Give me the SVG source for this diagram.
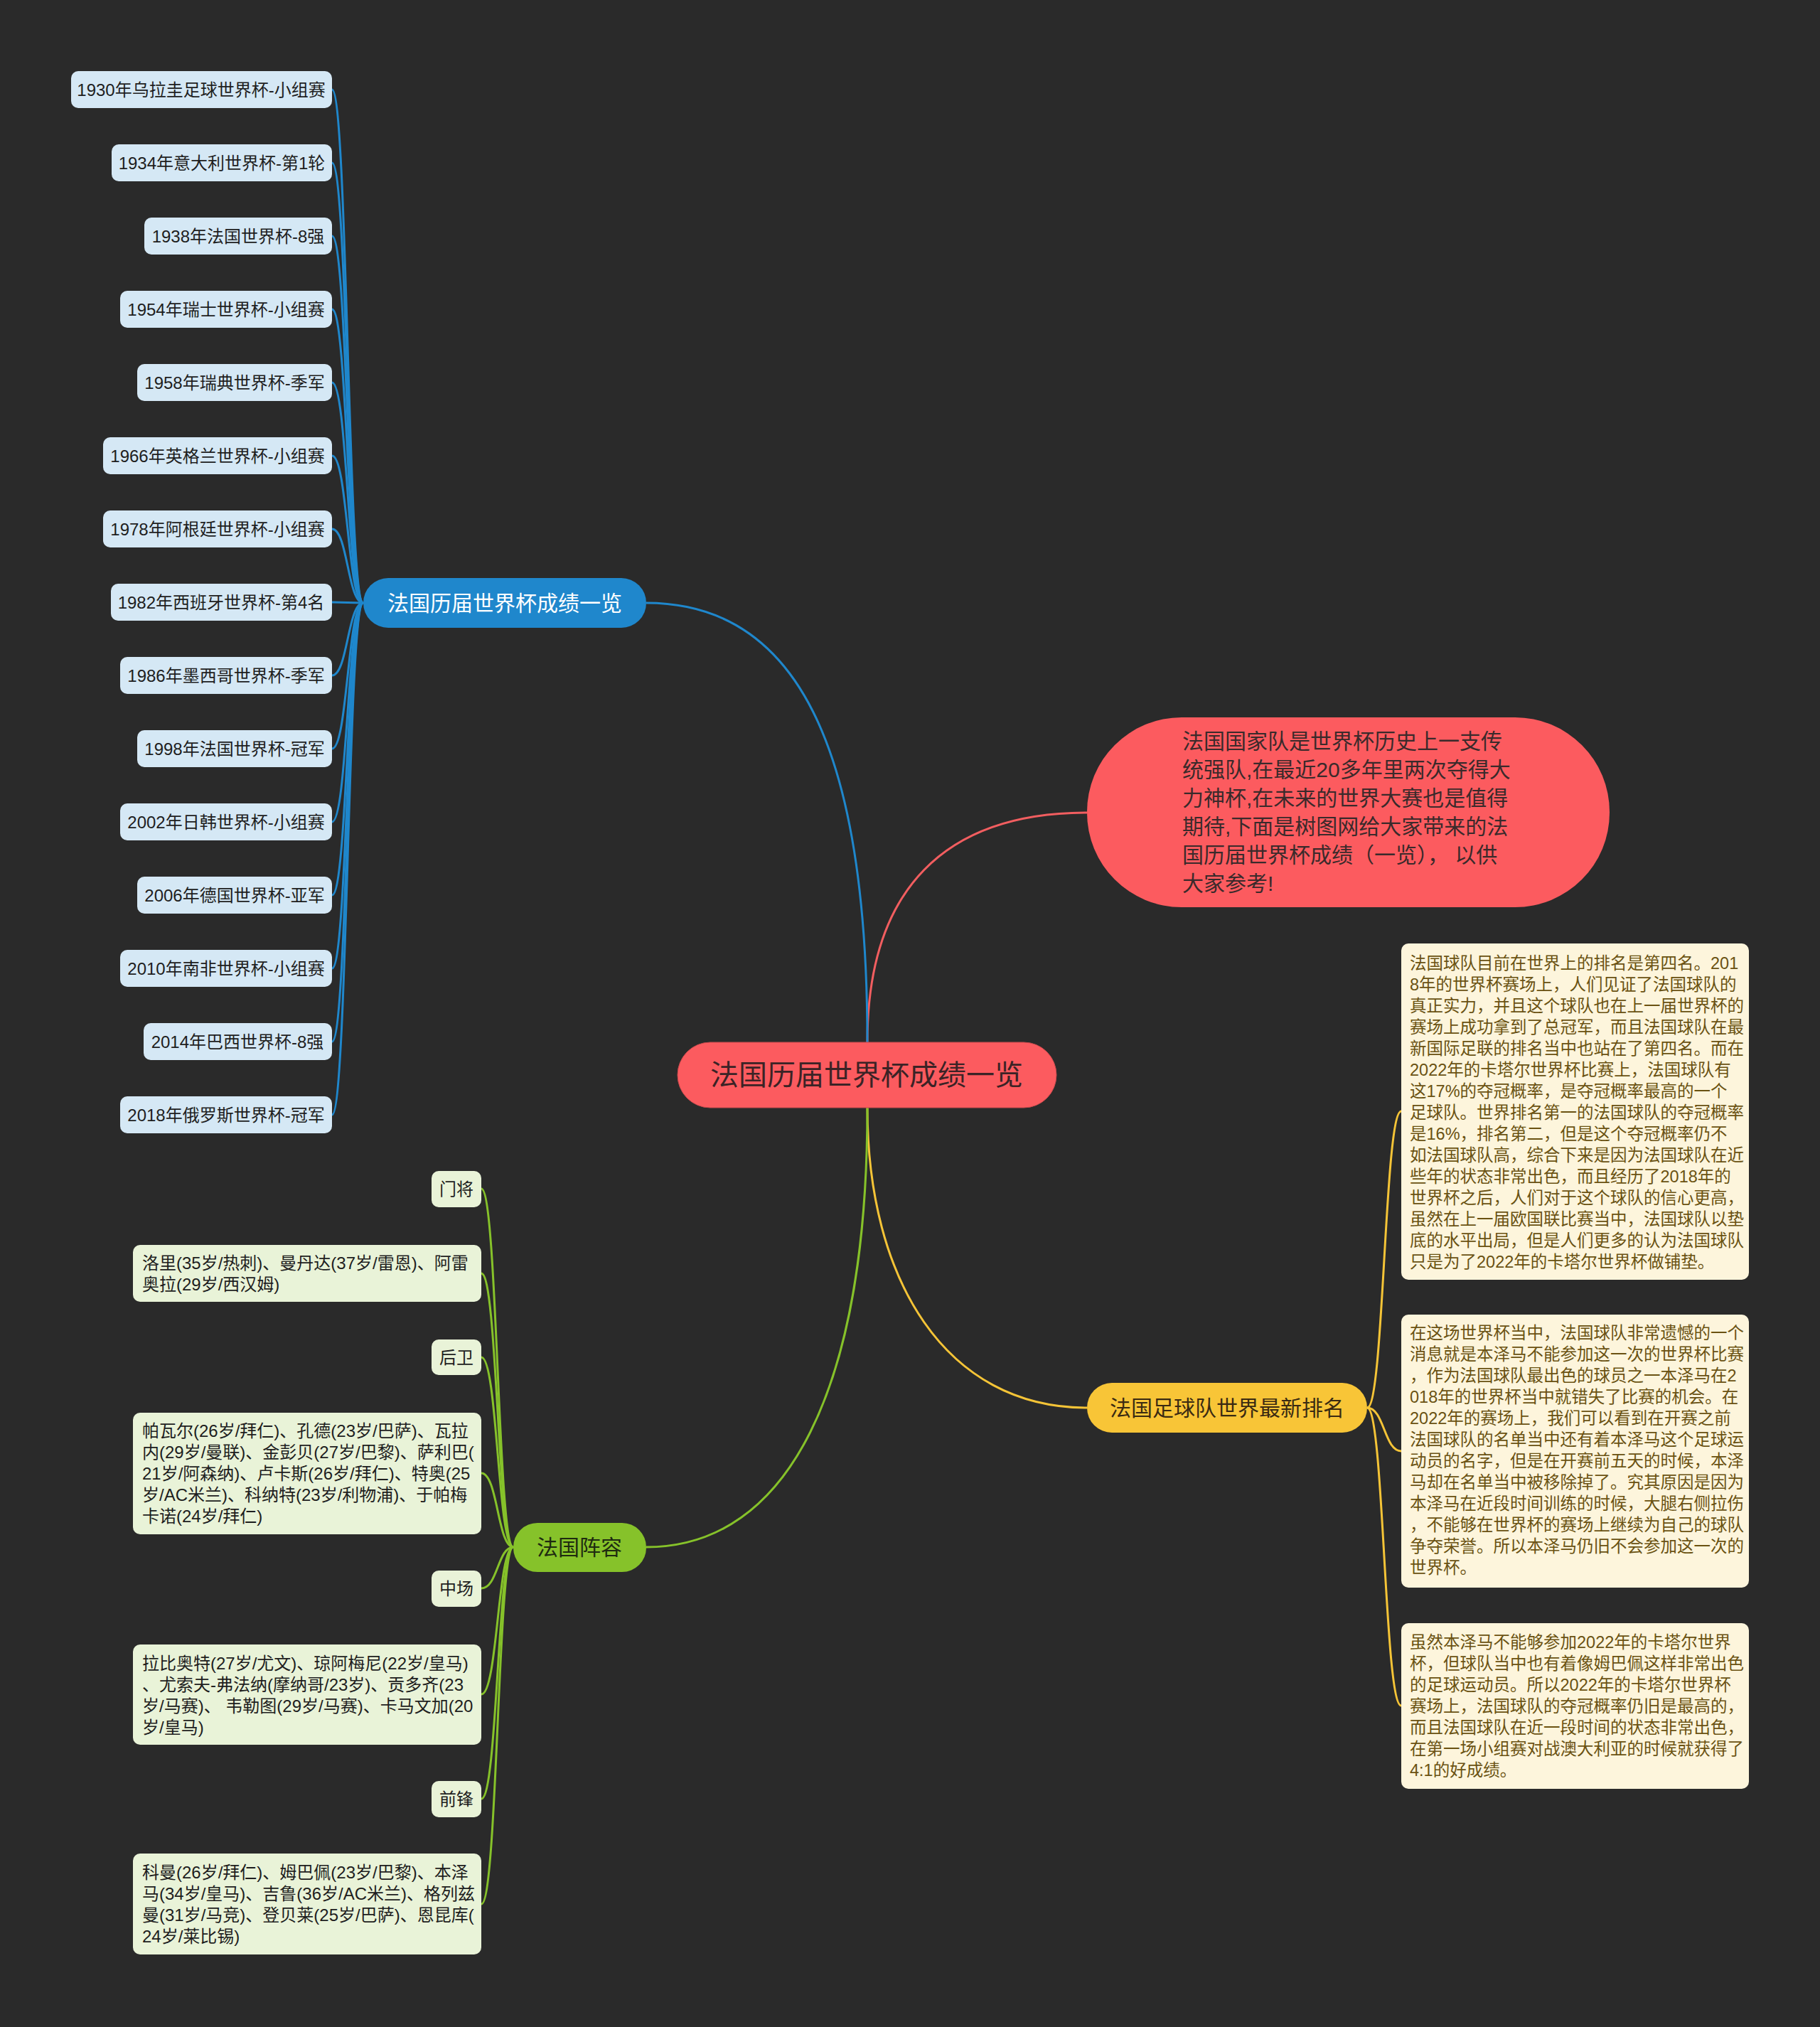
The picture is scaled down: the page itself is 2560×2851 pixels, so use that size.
<svg xmlns="http://www.w3.org/2000/svg" width="2560" height="2851" viewBox="0 0 2560 2851">
<style>
text{font-family:"Liberation Sans","Noto Sans CJK SC",sans-serif;dominant-baseline:central}
.conn path{fill:none;stroke-width:3}
.blue path{stroke:#1f87cc}
.green path{stroke:#86c22a}
.yellow path{stroke:#f5c437}
.red path{stroke:#f25e60}
.leafB rect{fill:#d5e8f5}
.leafB text{font-size:24px;fill:#1e1e1e;text-anchor:middle}
.leafG rect{fill:#e9f3d8}
.leafG text{font-size:24px;fill:#1e1e1e}
.small text{text-anchor:middle;font-size:24px}
.note rect{fill:#fdf5dc}
.note text{font-size:23.5px;fill:#6a5212}
</style>
<rect width="2560" height="2851" fill="#2a2a2a"/>

<g id="connectors" class="conn">
  <g class="red">
    <path d="M1220,1466 C1220,1250 1330,1143 1529,1143"/>
  </g>
  <g class="blue">
    <path d="M1220,1466 C1220,1050 1120,848 909,848"/>
    <path d="M511,848 C489,848 489,126 467,126"/>
    <path d="M511,848 C489,848 489,229 467,229"/>
    <path d="M511,848 C489,848 489,332 467,332"/>
    <path d="M511,848 C489,848 489,435 467,435"/>
    <path d="M511,848 C489,848 489,538 467,538"/>
    <path d="M511,848 C489,848 489,641 467,641"/>
    <path d="M511,848 C489,848 489,744 467,744"/>
    <path d="M511,848 C489,848 489,847 467,847"/>
    <path d="M511,848 C489,848 489,950 467,950"/>
    <path d="M511,848 C489,848 489,1053 467,1053"/>
    <path d="M511,848 C489,848 489,1156 467,1156"/>
    <path d="M511,848 C489,848 489,1259 467,1259"/>
    <path d="M511,848 C489,848 489,1362 467,1362"/>
    <path d="M511,848 C489,848 489,1465 467,1465"/>
    <path d="M511,848 C489,848 489,1568 467,1568"/>
  </g>
  <g class="yellow">
    <path d="M1220,1558 C1220,1800 1330,1980 1529,1980"/>
    <path d="M1923,1980 C1947,1980 1947,1563 1971,1563"/>
    <path d="M1923,1980 C1947,1980 1947,2041 1971,2041"/>
    <path d="M1923,1980 C1947,1980 1947,2399 1971,2399"/>
  </g>
  <g class="green">
    <path d="M1220,1558 C1220,1950 1110,2176 909,2176"/>
    <path d="M722,2176 C700,2176 700,1672 677,1672"/>
    <path d="M722,2176 C700,2176 700,1791 677,1791"/>
    <path d="M722,2176 C700,2176 700,1909 677,1909"/>
    <path d="M722,2176 C700,2176 700,2072 677,2072"/>
    <path d="M722,2176 C700,2176 700,2234 677,2234"/>
    <path d="M722,2176 C700,2176 700,2383 677,2383"/>
    <path d="M722,2176 C700,2176 700,2530 677,2530"/>
    <path d="M722,2176 C700,2176 700,2678 677,2678"/>
  </g>
</g>

<g id="root">
  <rect x="953" y="1466" width="533" height="92" rx="46" fill="#fc5b5f" stroke="#c94a4d" stroke-width="1"/>
  <text x="1219" y="1512" font-size="40" fill="#3b2326" text-anchor="middle">法国历届世界杯成绩一览</text>
</g>

<g id="branch-history">
  <rect x="511" y="813" width="398" height="70" rx="35" fill="#1f87cc"/>
  <text x="710" y="848" font-size="30" fill="#ffffff" text-anchor="middle">法国历届世界杯成绩一览</text>
</g>

<g id="intro">
  <rect x="1529" y="1009" width="735" height="267" rx="133" fill="#fc5b5f"/>
  <g font-size="30" fill="#3a2a2b">
    <text x="1663" y="1042">法国国家队是世界杯历史上一支传</text>
    <text x="1663" y="1082">统强队,在最近20多年里两次夺得大</text>
    <text x="1663" y="1122">力神杯,在未来的世界大赛也是值得</text>
    <text x="1663" y="1162">期待,下面是树图网给大家带来的法</text>
    <text x="1663" y="1202">国历届世界杯成绩（一览）， 以供</text>
    <text x="1663" y="1242">大家参考!</text>
  </g>
</g>

<g id="branch-ranking">
  <rect x="1529" y="1945" width="394" height="70" rx="35" fill="#f8c537"/>
  <text x="1726" y="1980" font-size="30" fill="#3a2a12" text-anchor="middle">法国足球队世界最新排名</text>
</g>

<g id="branch-squad">
  <rect x="722" y="2142" width="187" height="69" rx="34" fill="#86c22a"/>
  <text x="815" y="2176" font-size="30" fill="#1e2a10" text-anchor="middle">法国阵容</text>
</g>

<g class="leafB">
  <g id="y1930"><rect x="100" y="100" width="367" height="52" rx="10"/><text x="283" y="126">1930年乌拉圭足球世界杯-小组赛</text></g>
  <g id="y1934"><rect x="157" y="203" width="310" height="52" rx="10"/><text x="312" y="229">1934年意大利世界杯-第1轮</text></g>
  <g id="y1938"><rect x="203" y="306" width="264" height="52" rx="10"/><text x="335" y="332">1938年法国世界杯-8强</text></g>
  <g id="y1954"><rect x="169" y="409" width="298" height="52" rx="10"/><text x="318" y="435">1954年瑞士世界杯-小组赛</text></g>
  <g id="y1958"><rect x="193" y="512" width="274" height="52" rx="10"/><text x="330" y="538">1958年瑞典世界杯-季军</text></g>
  <g id="y1966"><rect x="145" y="615" width="322" height="52" rx="10"/><text x="306" y="641">1966年英格兰世界杯-小组赛</text></g>
  <g id="y1978"><rect x="145" y="718" width="322" height="52" rx="10"/><text x="306" y="744">1978年阿根廷世界杯-小组赛</text></g>
  <g id="y1982"><rect x="156" y="821" width="311" height="52" rx="10"/><text x="311" y="847">1982年西班牙世界杯-第4名</text></g>
  <g id="y1986"><rect x="169" y="924" width="298" height="52" rx="10"/><text x="318" y="950">1986年墨西哥世界杯-季军</text></g>
  <g id="y1998"><rect x="193" y="1027" width="274" height="52" rx="10"/><text x="330" y="1053">1998年法国世界杯-冠军</text></g>
  <g id="y2002"><rect x="169" y="1130" width="298" height="52" rx="10"/><text x="318" y="1156">2002年日韩世界杯-小组赛</text></g>
  <g id="y2006"><rect x="193" y="1233" width="274" height="52" rx="10"/><text x="330" y="1259">2006年德国世界杯-亚军</text></g>
  <g id="y2010"><rect x="169" y="1336" width="298" height="52" rx="10"/><text x="318" y="1362">2010年南非世界杯-小组赛</text></g>
  <g id="y2014"><rect x="202" y="1439" width="265" height="52" rx="10"/><text x="334" y="1465">2014年巴西世界杯-8强</text></g>
  <g id="y2018"><rect x="169" y="1542" width="298" height="52" rx="10"/><text x="318" y="1568">2018年俄罗斯世界杯-冠军</text></g>
</g>

<g class="leafG">
  <g id="gk" class="small"><rect x="607" y="1647" width="70" height="51" rx="10"/><text x="642" y="1672">门将</text></g>
  <g id="gk-list"><rect x="187" y="1751" width="490" height="80" rx="10"/>
    <text x="200" y="1776">洛里(35岁/热刺)、曼丹达(37岁/雷恩)、阿雷</text>
    <text x="200" y="1806">奥拉(29岁/西汉姆)</text>
  </g>
  <g id="df" class="small"><rect x="607" y="1884" width="70" height="50" rx="10"/><text x="642" y="1909">后卫</text></g>
  <g id="df-list"><rect x="187" y="1987" width="490" height="171" rx="10"/>
    <text x="200" y="2012">帕瓦尔(26岁/拜仁)、孔德(23岁/巴萨)、瓦拉</text>
    <text x="200" y="2042">内(29岁/曼联)、金彭贝(27岁/巴黎)、萨利巴(</text>
    <text x="200" y="2072">21岁/阿森纳)、卢卡斯(26岁/拜仁)、特奥(25</text>
    <text x="200" y="2102">岁/AC米兰)、科纳特(23岁/利物浦)、于帕梅</text>
    <text x="200" y="2132">卡诺(24岁/拜仁)</text>
  </g>
  <g id="mf" class="small"><rect x="607" y="2209" width="70" height="51" rx="10"/><text x="642" y="2234">中场</text></g>
  <g id="mf-list"><rect x="187" y="2313" width="490" height="141" rx="10"/>
    <text x="200" y="2339">拉比奥特(27岁/尤文)、琼阿梅尼(22岁/皇马)</text>
    <text x="200" y="2369">、尤索夫-弗法纳(摩纳哥/23岁)、贡多齐(23</text>
    <text x="200" y="2399" xml:space="preserve">岁/马赛)、 韦勒图(29岁/马赛)、卡马文加(20</text>
    <text x="200" y="2429">岁/皇马)</text>
  </g>
  <g id="fw" class="small"><rect x="607" y="2505" width="70" height="51" rx="10"/><text x="642" y="2530">前锋</text></g>
  <g id="fw-list"><rect x="187" y="2607" width="490" height="142" rx="10"/>
    <text x="200" y="2633">科曼(26岁/拜仁)、姆巴佩(23岁/巴黎)、本泽</text>
    <text x="200" y="2663">马(34岁/皇马)、吉鲁(36岁/AC米兰)、格列兹</text>
    <text x="200" y="2693">曼(31岁/马竞)、登贝莱(25岁/巴萨)、恩昆库(</text>
    <text x="200" y="2723">24岁/莱比锡)</text>
  </g>
</g>

<g class="note">
  <g id="note-ranking"><rect x="1971" y="1327" width="489" height="473" rx="10"/>
    <text x="1983" y="1355">法国球队目前在世界上的排名是第四名。201</text>
    <text x="1983" y="1385">8年的世界杯赛场上，人们见证了法国球队的</text>
    <text x="1983" y="1415">真正实力，并且这个球队也在上一届世界杯的</text>
    <text x="1983" y="1445">赛场上成功拿到了总冠军，而且法国球队在最</text>
    <text x="1983" y="1475">新国际足联的排名当中也站在了第四名。而在</text>
    <text x="1983" y="1505">2022年的卡塔尔世界杯比赛上，法国球队有</text>
    <text x="1983" y="1535">这17%的夺冠概率，是夺冠概率最高的一个</text>
    <text x="1983" y="1565">足球队。世界排名第一的法国球队的夺冠概率</text>
    <text x="1983" y="1595">是16%，排名第二，但是这个夺冠概率仍不</text>
    <text x="1983" y="1625">如法国球队高，综合下来是因为法国球队在近</text>
    <text x="1983" y="1655">些年的状态非常出色，而且经历了2018年的</text>
    <text x="1983" y="1685">世界杯之后，人们对于这个球队的信心更高，</text>
    <text x="1983" y="1715">虽然在上一届欧国联比赛当中，法国球队以垫</text>
    <text x="1983" y="1745">底的水平出局，但是人们更多的认为法国球队</text>
    <text x="1983" y="1775">只是为了2022年的卡塔尔世界杯做铺垫。</text>
  </g>
  <g id="note-benzema"><rect x="1971" y="1849" width="489" height="384" rx="10"/>
    <text x="1983" y="1875">在这场世界杯当中，法国球队非常遗憾的一个</text>
    <text x="1983" y="1905">消息就是本泽马不能参加这一次的世界杯比赛</text>
    <text x="1983" y="1935">，作为法国球队最出色的球员之一本泽马在2</text>
    <text x="1983" y="1965">018年的世界杯当中就错失了比赛的机会。在</text>
    <text x="1983" y="1995">2022年的赛场上，我们可以看到在开赛之前</text>
    <text x="1983" y="2025">法国球队的名单当中还有着本泽马这个足球运</text>
    <text x="1983" y="2055">动员的名字，但是在开赛前五天的时候，本泽</text>
    <text x="1983" y="2085">马却在名单当中被移除掉了。究其原因是因为</text>
    <text x="1983" y="2115">本泽马在近段时间训练的时候，大腿右侧拉伤</text>
    <text x="1983" y="2145">，不能够在世界杯的赛场上继续为自己的球队</text>
    <text x="1983" y="2175">争夺荣誉。所以本泽马仍旧不会参加这一次的</text>
    <text x="1983" y="2205">世界杯。</text>
  </g>
  <g id="note-mbappe"><rect x="1971" y="2283" width="489" height="233" rx="10"/>
    <text x="1983" y="2310">虽然本泽马不能够参加2022年的卡塔尔世界</text>
    <text x="1983" y="2340">杯，但球队当中也有着像姆巴佩这样非常出色</text>
    <text x="1983" y="2370">的足球运动员。所以2022年的卡塔尔世界杯</text>
    <text x="1983" y="2400">赛场上，法国球队的夺冠概率仍旧是最高的，</text>
    <text x="1983" y="2430">而且法国球队在近一段时间的状态非常出色，</text>
    <text x="1983" y="2460">在第一场小组赛对战澳大利亚的时候就获得了</text>
    <text x="1983" y="2490">4:1的好成绩。</text>
  </g>
</g>
</svg>
